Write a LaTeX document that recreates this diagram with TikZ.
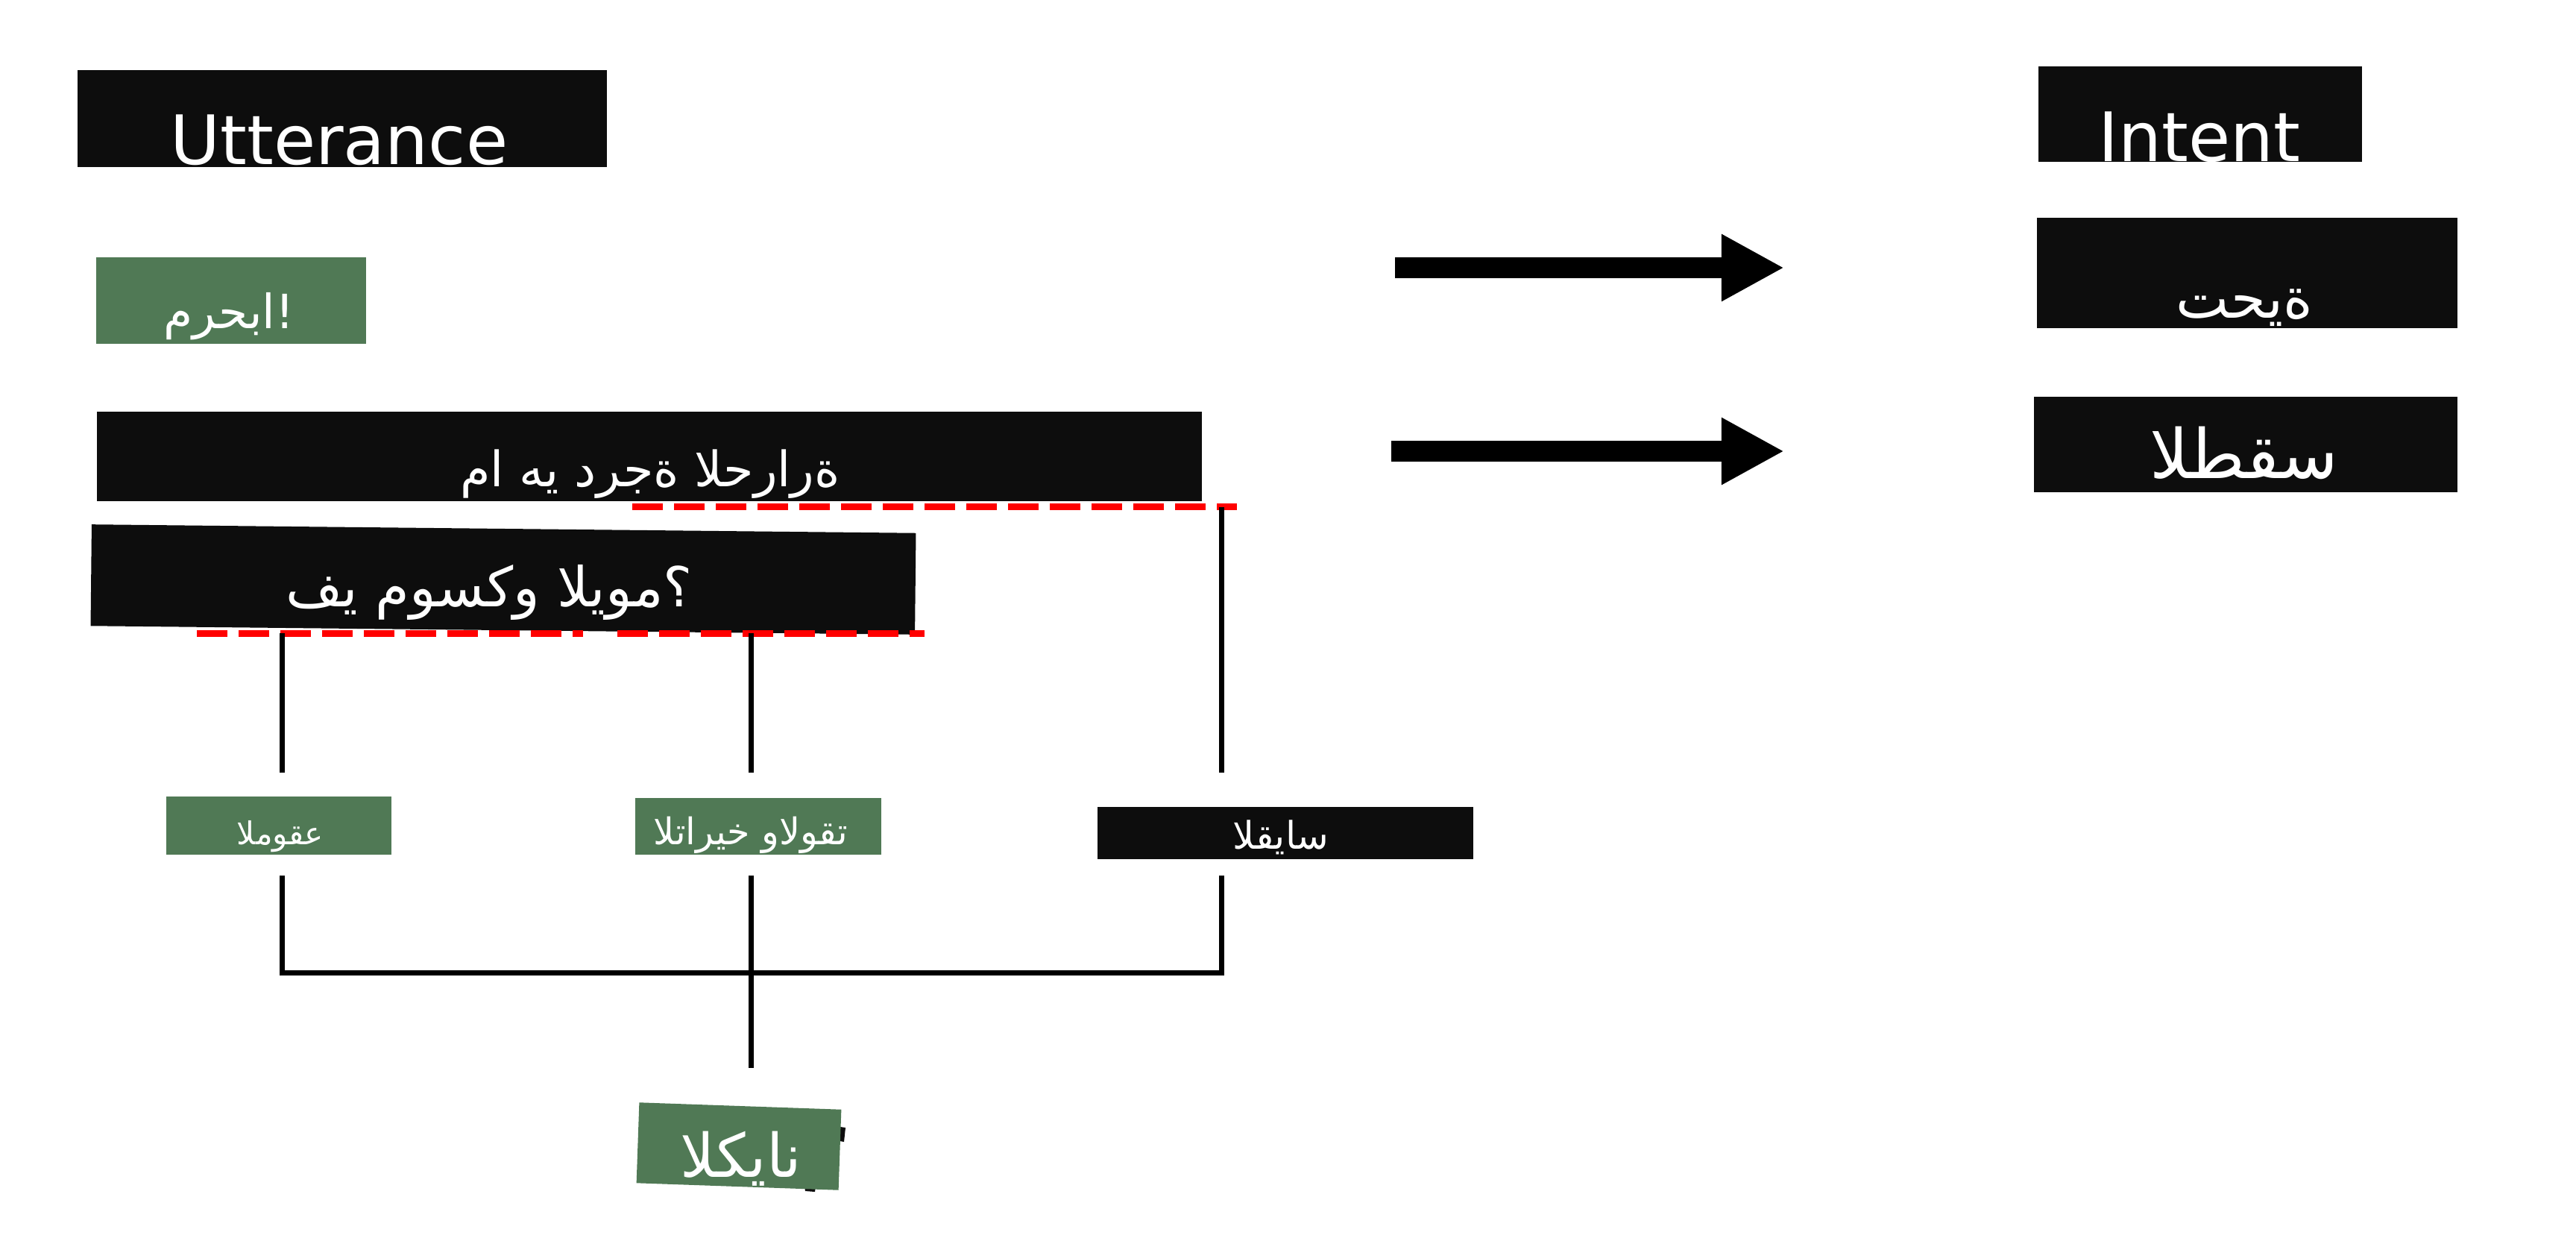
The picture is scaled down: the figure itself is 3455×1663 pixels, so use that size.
\documentclass[tikz,border=0pt]{standalone}
\usepackage{fontspec}
\setmainfont{DejaVu Sans}
\newfontfamily\arabicfont[Script=Arabic]{DejaVu Sans}
\usetikzlibrary{arrows.meta}
\definecolor{boxblack}{HTML}{0D0D0D}
\definecolor{boxgreen}{RGB}{80,121,85}

\begin{document}
\begin{tikzpicture}[x=0.01cm,y=-0.01cm]
\tikzset{box/.style={rectangle,inner sep=0pt,outer sep=0pt}}
\tikzset{blackbox/.style={box,fill=boxblack}}
\tikzset{greenbox/.style={box,fill=boxgreen}}
\tikzset{wtext/.style={text=white,inner sep=0pt,anchor=base}}
\tikzset{head/.style={wtext,font=\fontsize{26}{30}\selectfont}}
\tikzset{ar/.style={wtext,font=\arabicfont\fontsize{#1}{#1}\selectfont}}
\tikzset{link/.style={line width=0.07cm}}
\tikzset{redline/.style={draw=red,line width=0.09cm,dash pattern=on 0.41cm off 0.15cm}}
\tikzset{bigarrow/.style={line width=0.28cm,-{Triangle[length=0.84cm,width=0.84cm]}}}
\useasboundingbox (0,0) rectangle (3455,1663);

% headers
\node[blackbox,minimum width=7.10cm,minimum height=1.30cm] (utt) at (459,159) {};
\node[head] (uttText) at (455,220) {Utterance};
\node[blackbox,minimum width=4.33cm,minimum height=1.28cm] (int) at (2951,153) {};
\node[head] (intText) at (2950,216) {Intent};

% utterances (letters kept in the order the picture prints them)
\node[greenbox,minimum width=3.61cm,minimum height=1.16cm] (hello) at (310,403) {};
\node[ar=18] (helloText) at (307,440) {^^^^202dمرحبا!};
\node[blackbox,minimum width=14.82cm,minimum height=1.19cm] (temp) at (871,612) {};
\node[ar=18.6] (tempText) at (872,652) {^^^^202dما ^^^^202dهي ^^^^202dدرجة ^^^^202dالحرارة};
\node[blackbox,rotate=-0.6,minimum width=11.05cm,minimum height=1.36cm] (city) at (675,777) {};
\node[ar=21] (cityText) at (656,813) {^^^^202dفي ^^^^202dموسكو ^^^^202dاليوم؟};

% intents
\node[blackbox,minimum width=5.64cm,minimum height=1.47cm] (greet) at (3014,366) {};
\node[ar=21.5] (greetText) at (3010,426) {^^^^202dتحية};
\node[blackbox,minimum width=5.68cm,minimum height=1.28cm] (weather) at (3012,596) {};
\node[ar=26] (weatherText) at (3010,641) {^^^^202dالطقس};

% arrows
\coordinate (a1s) at (1871,359);
\coordinate (a1e) at (2393,359);
\coordinate (a2s) at (1866,605);
\coordinate (a2e) at (2393,605);
\draw[bigarrow] (a1s) -- (a1e);
\draw[bigarrow] (a2s) -- (a2e);

% marked spans
\coordinate (d1s) at (848,679);
\coordinate (d1e) at (1659,679);
\coordinate (d2s) at (264,849);
\coordinate (d2m) at (782,849);
\coordinate (d3s) at (828,849);
\coordinate (d3e) at (1240,849);
\draw[redline] (d1s) -- (d1e);
\draw[redline] (d2s) -- (d2m);
\draw[redline] (d3s) -- (d3e);

% entities
\node[greenbox,minimum width=3.01cm,minimum height=0.78cm] (loc) at (374,1107) {};
\node[ar=12] (locText) at (376,1132) {^^^^202dالموقع};
\node[greenbox,minimum width=3.30cm,minimum height=0.76cm] (time) at (1017,1108) {};
\node[ar=14] (timeText) at (1007,1132) {^^^^202dالتاريخ ^^^^202dوالوقت};
\node[blackbox,minimum width=5.04cm,minimum height=0.70cm] (meas) at (1724,1117) {};
\node[ar=14.5] (measText) at (1718,1138) {^^^^202dالقياس};
\fill[boxblack] (1127,1511) -- (1134,1512) -- (1132,1531) -- (1126,1530) -- cycle;
\fill[boxblack] (1079,1591) -- (1094,1591) -- (1093,1598) -- (1080,1597) -- cycle;
\node[greenbox,rotate=-2,minimum width=2.71cm,minimum height=1.08cm] (ent) at (991,1537) {};
\node[ar=23] (entText) at (994,1578) {^^^^202dالكيان};

% links
\coordinate (locUp) at (378,849);
\coordinate (locDown) at (378,1036);
\coordinate (timeUp) at (1007,849);
\coordinate (timeDown) at (1007,1036);
\coordinate (measUp) at (1638,680);
\coordinate (measDown) at (1638,1036);
\coordinate (locLow) at (378,1174);
\coordinate (timeLow) at (1007,1174);
\coordinate (measLow) at (1638,1174);
\coordinate (joinL) at (378,1304);
\coordinate (joinR) at (1638,1304);
\coordinate (entUp) at (1007,1432);
\draw[link] (locUp) -- (locDown);
\draw[link] (timeUp) -- (timeDown);
\draw[link] (measUp) -- (measDown);
\draw[link] (locLow) -- (joinL) -- (joinR) -- (measLow);
\draw[link] (timeLow) -- (entUp);
\end{tikzpicture}
\end{document}
